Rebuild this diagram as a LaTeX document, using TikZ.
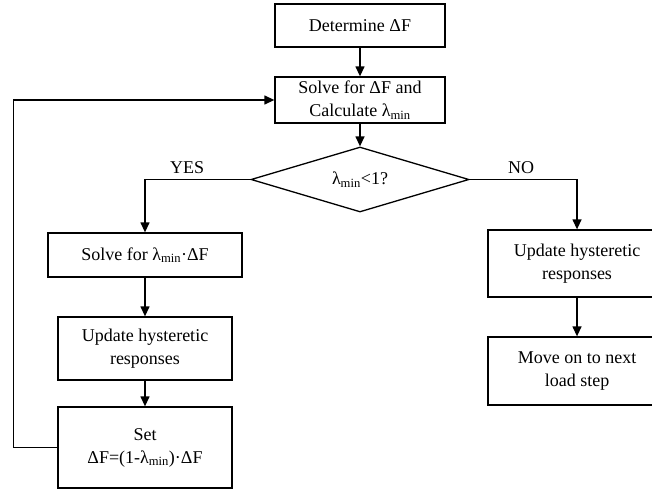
\documentclass[tikz,border=0pt]{standalone}
\usepackage{fontspec}
\setmainfont{Liberation Serif}
\usetikzlibrary{shapes.geometric,arrows.meta}

\begin{document}
\begin{tikzpicture}[x=1pt,y=-1pt]
\pgfmathsetmacro{\xMid}{360}
\pgfmathsetmacro{\xLeft}{145}
\pgfmathsetmacro{\xRight}{577}

\tikzstyle{block}=[draw,line width=1.3pt,align=center,inner sep=2pt,font=\fontsize{18}{23}\selectfont]
\tikzstyle{decision}=[diamond,draw,line width=1.3pt,aspect=3,inner sep=0pt,font=\fontsize{18}{23}\selectfont]
\tikzstyle{arrow}=[line width=1.3pt,-{Triangle[length=10pt,width=9pt]}]
\tikzstyle{answer}=[font=\fontsize{18}{23}\selectfont]

\useasboundingbox (0,0) rectangle (652,490);

% main column
\node[block,minimum width=170pt,minimum height=43pt] (det) at (\xMid,25.5) {Determine ΔF};
\node[block,minimum width=170pt,minimum height=46pt] (solve) at (\xMid,100) {Solve for ΔF and\\Calculate λ\textsubscript{min}};
\node[decision,minimum width=218pt,minimum height=65pt] (dec) at (\xMid,179.5) {λ\textsubscript{min}<1?};

% YES branch
\node[block,minimum width=194pt,minimum height=44pt] (lsolve) at (\xLeft,255) {Solve for λ\textsubscript{min}·ΔF};
\node[block,minimum width=174pt,minimum height=63pt] (lupd) at (\xLeft,348.5) {Update hysteretic\\responses};
\node[block,minimum width=174pt,minimum height=81pt] (lset) at (\xLeft,447.5) {Set\\ΔF=(1-λ\textsubscript{min})·ΔF};

% NO branch
\node[block,minimum width=178pt,minimum height=67pt] (rupd) at (\xRight,263.5) {Update hysteretic\\responses};
\node[block,minimum width=178pt,minimum height=68pt] (rmove) at (\xRight,371) {Move on to next\\load step};

\coordinate (back) at (13.5,100);

\draw[arrow] (det) -- (solve);
\draw[arrow] (solve) -- (dec);
\draw[arrow] (dec.west) -| (lsolve.north) node[answer,pos=0.3,above=2pt]{YES};
\draw[arrow] (dec.east) -| (rupd.north) node[answer,pos=0.24,above=2pt]{NO};
\draw[arrow] (lsolve) -- (lupd);
\draw[arrow] (lupd) -- (lset);
\draw[arrow] (rupd) -- (rmove);
\draw[arrow] (lset.west) -| (back) -- (solve.west);
\end{tikzpicture}
\end{document}
